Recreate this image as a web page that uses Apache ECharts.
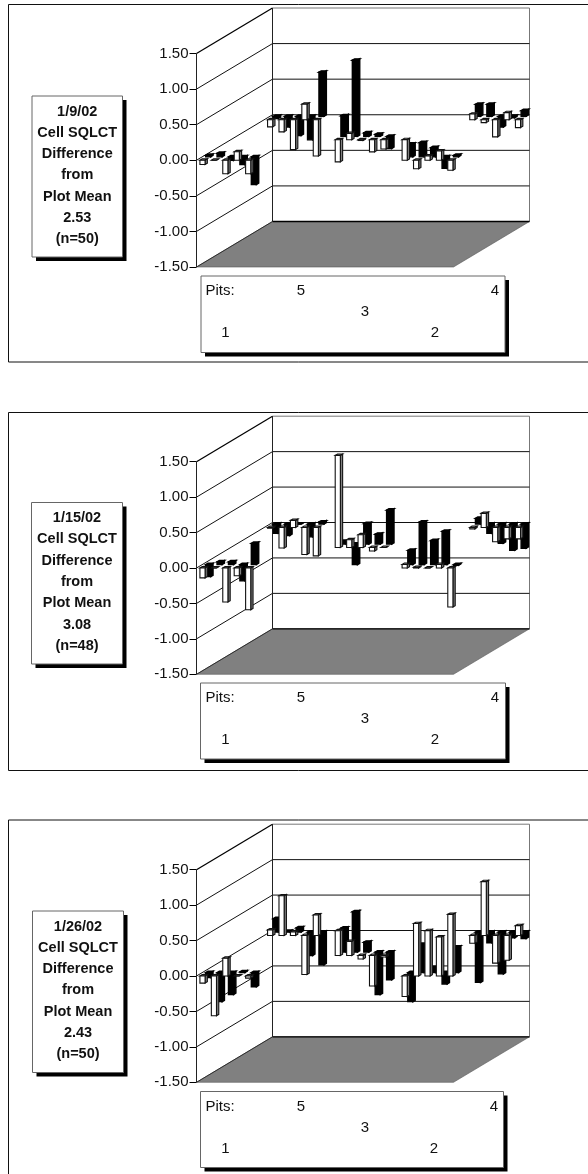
<!DOCTYPE html>
<html><head><meta charset="utf-8">
<style>html,body{margin:0;padding:0;background:#fff}#c{width:588px;height:1174px}</style>
<script src="https://cdn.jsdelivr.net/npm/echarts@6/dist/echarts.min.js"></script>
</head><body><div id="c"></div>
<script>
// Values per pit (index 0 = pit 1 ... index 4 = pit 5); each pit has five cell pairs.
const jan09White = [[-0.06,0,-0.19,0.12,-0.19],[0.29,-0.12,0.06,0.13,-0.14],[-0.31,0.09,-0.01,-0.17,-0.13],[0.08,-0.04,-0.24,0.1,-0.11],[-0.1,-0.17,-0.42,0.22,-0.51]];
const jan09Black = [[0.02,0.05,-0.05,-0.11,-0.39],[0.18,0.2,0.13,-0.16,0.02],[0.29,1.07,0.05,0.03,-0.17],[0.17,0.17,-0.15,-0.02,0.08],[-0.03,-0.15,-0.27,-0.33,0.62]];
const jan15White = [[-0.14,0,-0.48,-0.11,-0.59],[0.05,0.01,0,0.05,-0.55],[1.3,0.11,0.18,-0.05,0],[-0.02,0.2,-0.2,-0.16,-0.16],[-0.01,-0.29,0.1,-0.38,-0.4]];
const jan15Black = [[-0.17,0.04,0.04,-0.23,0.3],[0.2,0.6,0.34,0.47,-0.01],[0.04,-0.29,0.29,0.14,0.48],[0.08,-0.13,-0.27,-0.37,-0.34],[-0.13,-0.16,0,-0.18,0.03]];
const jan26White = [[-0.1,-0.56,0.25,0,-0.03],[-0.29,0.74,0.64,0.55,0.87],[0.35,0.2,-0.05,-0.43,-0.02],[-0.11,0.76,-0.39,-0.35,0.14],[0.08,0.56,0.05,-0.55,0.29]];
const jan26Black = [[-0.07,-0.41,-0.31,0.01,-0.2],[-0.41,0.4,0.07,-0.16,0.36],[0.34,0.57,0.14,-0.6,-0.39],[-0.71,-0.15,-0.59,-0.08,-0.09],[0.19,0.01,0.06,-0.33,-0.46]];
const yTicks = [-1.5,-1,-0.5,0,0.5,1,1.5];
const pitLabels = ['1','2','3','4','5'];
const captions = [
 ['1/9/02','Cell SQLCT','Difference','from','Plot Mean','2.53','(n=50)'],
 ['1/15/02','Cell SQLCT','Difference','from','Plot Mean','3.08','(n=48)'],
 ['1/26/02','Cell SQLCT','Difference','from','Plot Mean','2.43','(n=50)']
];

const panelData = [[jan09White,jan09Black],[jan15White,jan15Black],[jan26White,jan26Black]];
// layout
const pitSlot  = [0.6,36,18.3,36,0.6];
const pitDepth = [0,0,0.45,0.89,0.89];
const drawOrder = [4,3,2,0,1];
const layouts = [
 {frameTop:4.5, frameBottom:362, top:53.5, h:213.5, box:[32,96,90.5,161], pits:[201,276,304,76.5], tx:0},
 {frameTop:412.5,frameBottom:770.5,top:461.7,h:212.6, box:[31.5,502.5,91,161.5], pits:[200.5,683,305,76], tx:0},
 {frameTop:820, frameBottom:1200, top:869.7,h:212.6, box:[32.5,911,91,161.5], pits:[200.5,1091.5,303,76], tx:-1}
];
const DX=76, DY=-45.5, LEFT=196.5, WIDTH=257, SLOTS=45, FONT='"Liberation Sans",Arial,sans-serif';

function projector(api){
  return (x,v,d)=>{const p=api.coord([x,v]);return [p[0]+d*DX,p[1]+d*DY];};
}
function poly(points,fill,stroke,lw){
  return {type:'polygon',shape:{points},style:{fill,stroke:stroke||fill,lineWidth:lw==null?1:lw}};
}
function line(a,b,color,w){
  return {type:'line',shape:{x1:a[0],y1:a[1],x2:b[0],y2:b[1]},style:{stroke:color,lineWidth:w}};
}
function renderWalls(params,api){
  const P=projector(api), kids=[];
  kids.push(poly([P(0,-1.5,0),P(45,-1.5,0),P(45,-1.5,1),P(0,-1.5,1)],'#808080','#555',0.6));
  kids.push(poly([P(0,-1.5,1),P(45,-1.5,1),P(45,1.5,1),P(0,1.5,1)],'#fff','#777',1));
  yTicks.forEach(t=>{
    if(t>-1.5&&t<1.5){
      kids.push(line(P(0,t,0),P(0,t,1),'#111',1));
      kids.push(line(P(0,t,1),P(45,t,1),'#111',1));
    }
  });
  kids.push(line(P(0,1.5,0),P(0,1.5,1),'#000',1.3));
  kids.push(line(P(0,-1.5,1),P(0,1.5,1),'#222',1));
  kids.push(line(P(0,-1.5,1),P(45,-1.5,1),'#000',1.3));
  kids.push(line(P(0,-1.5,0),P(0,-1.5,1),'#222',0.9));
  kids.push(line(P(0,-1.5,0),P(0,1.5,0),'#222',1));
  return {type:'group',children:kids};
}
function renderBar(params,api){
  const P=projector(api);
  const x=api.value(0), v=api.value(1), d=api.value(2), black=api.value(3)===1;
  const w=0.9, bd=0.03, top=Math.max(v,0), bot=Math.min(v,0);
  const edge=black?'#000':'#111', lw=black?1.4:1.1;
  const front=poly([P(x,top,d),P(x+w,top,d),P(x+w,bot,d),P(x,bot,d)],black?'#000':'#fff',edge,lw);
  const side=poly([P(x+w,top,d),P(x+w,top,d+bd),P(x+w,bot,d+bd),P(x+w,bot,d)],black?'#000':'#808080',edge,lw);
  const cap=poly([P(x,top,d),P(x,top,d+bd),P(x+w,top,d+bd),P(x+w,top,d)],black?'#000':'#fff',edge,lw);
  return {type:'group',children:[side,cap,front]};
}
function barRows(white,black){
  const rows=[];
  drawOrder.forEach(p=>{
    for(let i=0;i<5;i++){
      const s=pitSlot[p]+2*i;
      rows.push([s,black[p][i],pitDepth[p]+0.075,1]);
      rows.push([s,white[p][i],pitDepth[p],0]);
    }
  });
  return rows;
}

const grids=[],xAxes=[],yAxes=[],series=[],graphics=[];
layouts.forEach((L,k)=>{
  grids.push({left:LEFT,top:L.top,width:WIDTH,height:L.h,containLabel:false});
  xAxes.push({type:'value',gridIndex:k,min:0,max:SLOTS,show:false});
  yAxes.push({type:'value',gridIndex:k,min:yTicks[0],max:yTicks[yTicks.length-1],interval:0.5,
    axisLine:{show:false},splitLine:{show:false},
    axisTick:{show:true,length:7,lineStyle:{color:'#000',width:1}},
    axisLabel:{margin:8,fontFamily:FONT,fontSize:15,color:'#111',formatter:v=>v.toFixed(2)}});
  series.push({type:'custom',xAxisIndex:k,yAxisIndex:k,clip:false,silent:true,z:1,data:[[0,0]],renderItem:renderWalls,encode:{x:0,y:1}});
  series.push({type:'custom',xAxisIndex:k,yAxisIndex:k,clip:false,silent:true,z:2,data:barRows(panelData[k][0],panelData[k][1]),renderItem:renderBar,encode:{x:0,y:1},animation:false});
  // panel frame
  graphics.push({type:'rect',z:0,silent:true,shape:{x:8.5,y:L.frameTop,width:640,height:L.frameBottom-L.frameTop},style:{fill:'none',stroke:'#111',lineWidth:1}});
  // caption box
  const b=L.box;
  graphics.push({type:'rect',z:5,shape:{x:b[0]+4,y:b[1]+4,width:b[2],height:b[3]},style:{fill:'#000'}});
  graphics.push({type:'rect',z:6,shape:{x:b[0],y:b[1],width:b[2],height:b[3]},style:{fill:'#fff',stroke:'#666',lineWidth:1}});
  captions[k].forEach((t,i)=>{
    graphics.push({type:'text',z:7,style:{x:b[0]+b[2]/2,y:b[1]+15.5+i*21.3,text:t,align:'center',verticalAlign:'middle',font:'bold 14.5px '+FONT,fill:'#111'}});
  });
  // pits box
  const q=L.pits;
  graphics.push({type:'rect',z:5,shape:{x:q[0]+4,y:q[1]+4,width:q[2],height:q[3]},style:{fill:'#000'}});
  graphics.push({type:'rect',z:6,shape:{x:q[0],y:q[1],width:q[2],height:q[3]},style:{fill:'#fff',stroke:'#666',lineWidth:1}});
  const pitText=[['Pits:',205.5,15,'left'],[pitLabels[4],301,15,'center'],[pitLabels[3],495+L.tx,15,'center'],[pitLabels[2],365,36,'center'],[pitLabels[0],225.5,57,'center'],[pitLabels[1],435+L.tx,57,'center']];
  pitText.forEach(t=>{
    graphics.push({type:'text',z:7,style:{x:t[1],y:q[1]+t[2],text:t[0],align:t[3],verticalAlign:'middle',font:'15px '+FONT,fill:'#111'}});
  });
});

const chart=echarts.init(document.getElementById('c'),null,{renderer:'canvas'});
chart.setOption({animation:false,backgroundColor:'#fff',grid:grids,xAxis:xAxes,yAxis:yAxes,series,graphic:{elements:graphics}});
</script></body></html>
